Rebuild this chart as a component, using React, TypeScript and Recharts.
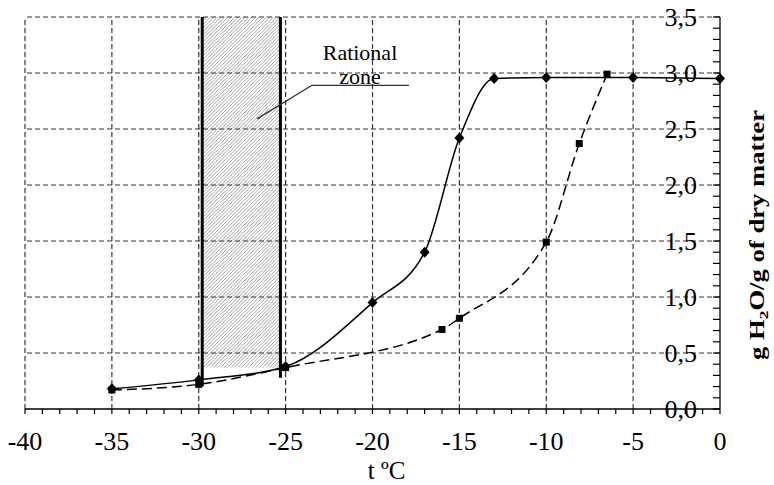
import { LineChart, Line, XAxis, YAxis, ReferenceLine, ReferenceArea, ReferenceDot } from 'recharts';

// temperature (°C) / water content (g H2O per g dry matter)
const solidTemps = [-35, -30, -25, -20, -17, -15, -13, -10, -5, 0];
const solidWater = [0.18, 0.26, 0.38, 0.95, 1.4, 2.42, 2.95, 2.96, 2.96, 2.95];
const dashedTemps = [-35, -30, -25, -16, -15, -10, -8.1, -6.5];
const dashedWater = [0.17, 0.22, 0.37, 0.71, 0.81, 1.49, 2.37, 2.99];

const X_GRID = [-40, -35, -30, -25, -20, -15, -10, -5];
const Y_GRID = [0.5, 1, 1.5, 2, 2.5, 3, 3.5];
const X_TICKS = Array.from({ length: 41 }, (_, i) => i - 40);
const Y_TICKS = Array.from({ length: 36 }, (_, i) => i / 10);

// rational zone (hatched band) and its callout
const ZONE = { from: -29.8, to: -25.3, bottom: 0.37, top: 3.5 };
const ZONE_LEFT_LINE = [0.2, 3.5];
const ZONE_RIGHT_LINE = [0.28, 3.5];
const CALLOUT = [
  { x: -26.65, y: 2.59 },
  { x: -23.48, y: 2.89 },
  { x: -17.9, y: 2.89 },
];
const LABEL_X = -20.72;
const LABEL_LINES = [
  { text: 'Rational', y: 3.12 },
  { text: 'zone', y: 2.9 },
];

const solidData = solidTemps.map((t, i) => ({ t, w: solidWater[i] }));
const dashedData = dashedTemps.map((t, i) => ({ t, w: dashedWater[i] }));

const FONT = '"Liberation Serif", "Times New Roman", serif';
const GRID_COLOR = '#333';

function XTick(props: any) {
  const { x, y, payload } = props;
  const v = payload.value;
  return (
    <g>
      <line x1={x} y1={y} x2={x} y2={y + 5} stroke="#000" strokeWidth={1.2} />
      {v % 5 === 0 && (
        <text x={x} y={y + 41} textAnchor="middle" fontSize={26} fontFamily={FONT} fill="#000">
          {v}
        </text>
      )}
    </g>
  );
}

function YTick(props: any) {
  const { x, y, payload } = props;
  const v = payload.value;
  const major = Math.round(v * 10) % 5 === 0;
  return (
    <g>
      <line x1={x} y1={y} x2={x - 7} y2={y} stroke="#000" strokeWidth={1.2} />
      {major && (
        <text x={x - 23} y={y + 9} textAnchor="end" fontSize={26} fontFamily={FONT} fill="#000">
          {v.toFixed(1).replace('.', ',')}
        </text>
      )}
    </g>
  );
}

function Diamond(props: any) {
  const { cx, cy, index } = props;
  return <path key={`d-${index}`} d={`M${cx},${cy - 5.5} L${cx + 5},${cy} L${cx},${cy + 5.5} L${cx - 5},${cy} Z`} fill="#000" />;
}

function Square(props: any) {
  const { cx, cy, index } = props;
  return <rect key={`s-${index}`} x={cx - 3.5} y={cy - 3.5} width={7} height={7} fill="#000" />;
}

export default function App() {
  return (
    <div style={{ position: 'absolute', left: 0, top: 0, background: '#fff' }}>
      <LineChart width={774} height={485} margin={{ top: 17, left: 25, right: 0, bottom: 0 }} style={{ fontFamily: FONT }}>
        <XAxis
          dataKey="t"
          type="number"
          domain={[-40, 0]}
          ticks={X_TICKS}
          interval={0}
          height={76}
          tickSize={0}
          tickMargin={0}
          tickLine={false}
          axisLine={{ stroke: '#000', strokeWidth: 1.3 }}
          tick={XTick}
          label={{
            content: (p: any) => {
              const vb = p.viewBox;
              return (
                <text x={vb.x + vb.width / 2 + 14} y={vb.y + 70} textAnchor="middle" fontSize={25} fontFamily={FONT} fill="#000">
                  t ºC
                </text>
              );
            },
          }}
        />
        <YAxis
          yAxisId={0}
          orientation="right"
          type="number"
          domain={[0, 3.5]}
          ticks={Y_TICKS}
          interval={0}
          width={54}
          tickSize={0}
          tickMargin={0}
          tickLine={false}
          axisLine={{ stroke: '#000', strokeWidth: 1.3 }}
          tick={YTick}
          label={{
            content: (p: any) => {
              const vb = p.viewBox;
              const cx = vb.x + 44;
              const cy = vb.y + vb.height / 2 + 22;
              return (
                <text
                  x={cx}
                  y={cy}
                  transform={`rotate(-90, ${cx}, ${cy})`}
                  textAnchor="middle"
                  fontSize={20}
                  fontWeight="bold"
                  fontFamily={FONT}
                  fill="#000"
                  textLength={250}
                  lengthAdjust="spacingAndGlyphs"
                >
                  g H<tspan fontSize={13} dy={4}>2</tspan>
                  <tspan dy={-4}>O/g of dry matter</tspan>
                </text>
              );
            },
          }}
        />

        {X_GRID.map((v) => (
          <ReferenceLine key={`gx${v}`} x={v} stroke={GRID_COLOR} strokeWidth={1.2} strokeDasharray="5 3" />
        ))}
        {Y_GRID.map((v) => (
          <ReferenceLine key={`gy${v}`} y={v} stroke={GRID_COLOR} strokeWidth={1.2} strokeDasharray="5 3" />
        ))}

        <ReferenceArea
          x1={ZONE.from}
          x2={ZONE.to}
          y1={ZONE.bottom}
          y2={ZONE.top}
          shape={(p: any) => (
            <g>
              <defs>
                <pattern id="hatch" patternUnits="userSpaceOnUse" width={3.5} height={3.5}>
                  <rect width={3.5} height={3.5} fill="#fff" />
                  <path d="M-1,1 l2,-2 M0,3.5 l3.5,-3.5 M2.5,4.5 l2,-2" stroke="#8a8a8a" strokeWidth={0.8} />
                </pattern>
              </defs>
              <rect x={p.x} y={p.y} width={p.width} height={p.height} fill="url(#hatch)" />
            </g>
          )}
        />
        <ReferenceLine
          segment={[{ x: ZONE.from, y: ZONE_LEFT_LINE[0] }, { x: ZONE.from, y: ZONE_LEFT_LINE[1] }]}
          stroke="#000"
          strokeWidth={3}
          ifOverflow="visible"
        />
        <ReferenceLine
          segment={[{ x: ZONE.to, y: ZONE_RIGHT_LINE[0] }, { x: ZONE.to, y: ZONE_RIGHT_LINE[1] }]}
          stroke="#000"
          strokeWidth={3}
          ifOverflow="visible"
        />
        <ReferenceLine segment={[CALLOUT[0], CALLOUT[1]]} stroke="#333" strokeWidth={1.3} ifOverflow="visible" />
        <ReferenceLine segment={[CALLOUT[1], CALLOUT[2]]} stroke="#333" strokeWidth={1.3} ifOverflow="visible" />
        {LABEL_LINES.map((l) => (
          <ReferenceDot
            key={l.text}
            x={LABEL_X}
            y={l.y}
            r={0}
            ifOverflow="visible"
            shape={(p: any) => (
              <text x={p.cx} y={p.cy} textAnchor="middle" fontSize={22} fontFamily={FONT} fill="#000">
                {l.text}
              </text>
            )}
          />
        ))}

        <Line
          data={dashedData}
          dataKey="w"
          type="monotone"
          stroke="#000"
          strokeWidth={1.5}
          strokeDasharray="10 5"
          dot={Square}
          activeDot={false}
          isAnimationActive={false}
        />
        <Line
          data={solidData}
          dataKey="w"
          type="monotone"
          stroke="#000"
          strokeWidth={1.5}
          dot={Diamond}
          activeDot={false}
          isAnimationActive={false}
        />
      </LineChart>
    </div>
  );
}
